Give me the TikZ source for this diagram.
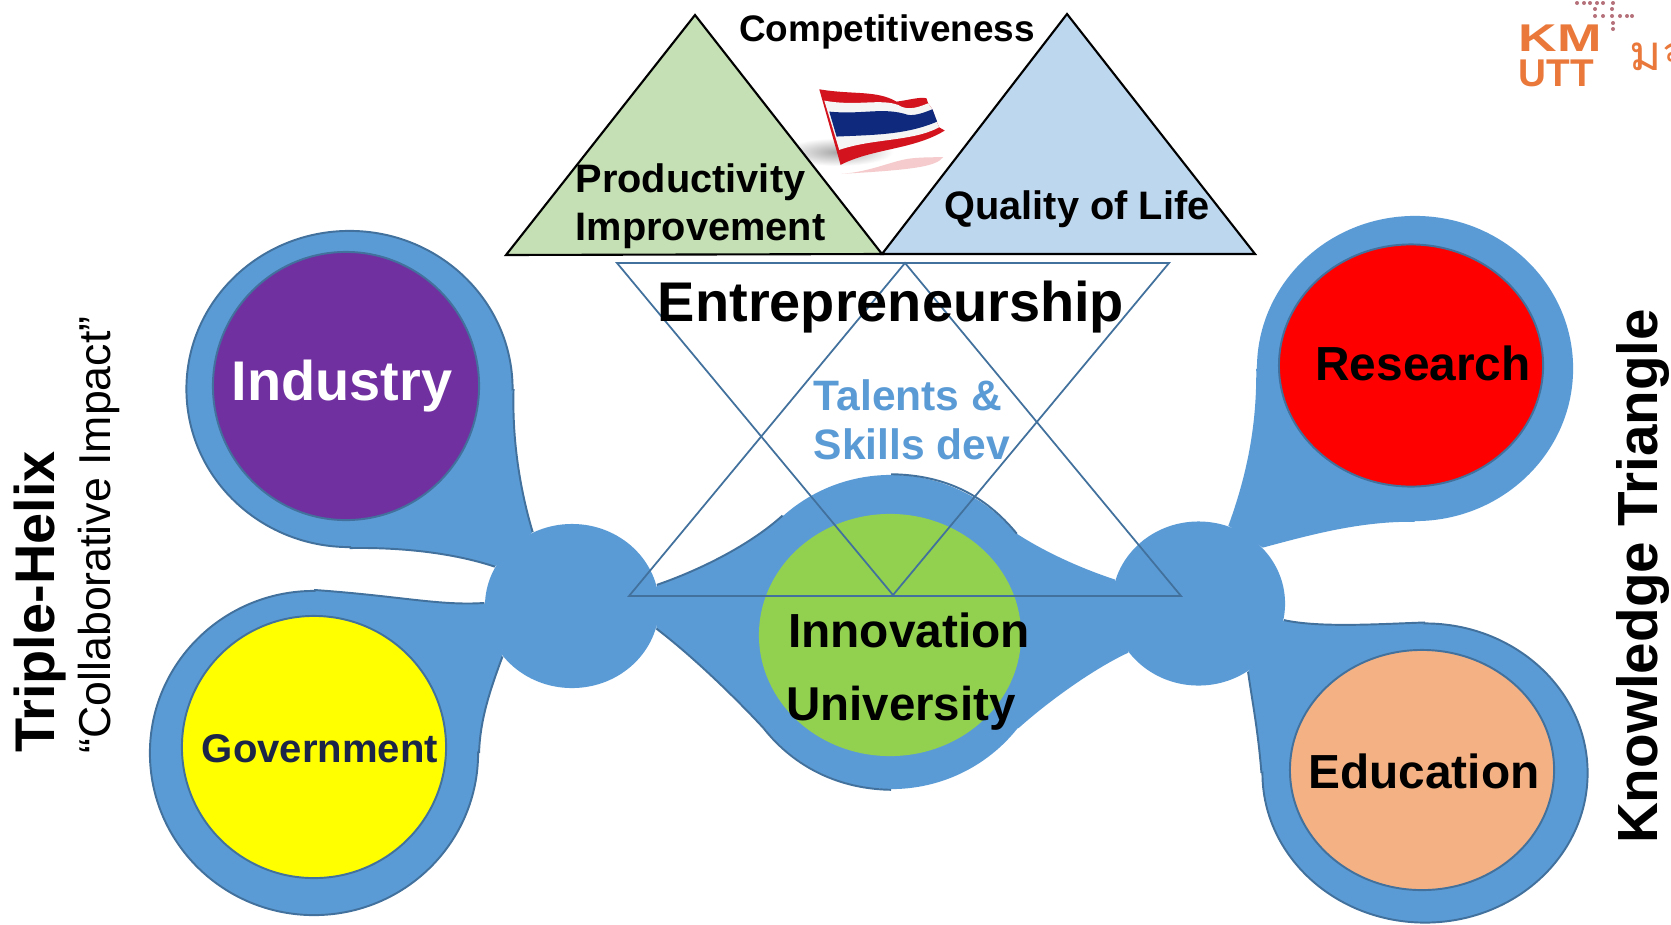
\documentclass[tikz,border=0pt]{standalone}
\usepackage{fontspec}
\setmainfont{Liberation Sans}
\newfontfamily\thaifont[Script=Thai]{Loma}
\usetikzlibrary{shapes.geometric}
\definecolor{limbblue}{HTML}{5B9BD5}
\definecolor{edgeblue}{HTML}{41719C}
\definecolor{kmorange}{HTML}{E9783A}
\definecolor{kmdot}{HTML}{B5707A}
\definecolor{indpurple}{HTML}{7030A0}
\definecolor{govyellow}{rgb}{1,1,0}
\definecolor{resred}{rgb}{1,0,0}
\definecolor{edupeach}{HTML}{F4B183}
\definecolor{unigreen}{HTML}{92D050}
\definecolor{trigreen}{HTML}{C5E0B4}
\definecolor{triblue}{HTML}{BDD7EE}
\definecolor{govnavy}{HTML}{1B2548}
\definecolor{flagred}{HTML}{D3141F}
\definecolor{flagblue}{HTML}{0F2A7C}
\tikzset{
  round/.style={ellipse,inner sep=0pt,fill=#1},
  limb/.style={fill=limbblue,draw=none},
  rim/.style={draw=edgeblue,line width=0.55pt},
  tri/.style={draw=black,line width=0.6pt,line join=miter},
  vee/.style={draw=edgeblue,line width=0.5pt},
  tag/.style={inner sep=0pt,font=\bfseries\fontsize{#1}{#1}\selectfont},
}
\begin{document}
\begin{tikzpicture}[x=0.01cm,y=-0.01cm]
\useasboundingbox (0,0) rectangle (1671,924);
\fill[white] (0,0) rectangle (1671,924);

\draw[draw=none] (349.5,389) node (indouter) [round=limbblue,rim,minimum width=3.26cm,minimum height=3.16cm] {};
\draw[draw=none] (314,753) node (govouter) [round=limbblue,rim,minimum width=3.28cm,minimum height=3.24cm] {};
\draw[draw=none] (1415,368.5) node (resouter) [round=limbblue,minimum width=3.16cm,minimum height=3.05cm] {};
\draw[draw=none] (1425,773) node (eduouter) [round=limbblue,rim,minimum width=3.25cm,minimum height=2.99cm] {};
\draw[draw=none] (891,632) node (uniouter) [round=limbblue,minimum width=3.2cm,minimum height=3.14cm] {};
\draw[draw=none] (572,606) node (hubleft) [round=limbblue,minimum width=1.74cm,minimum height=1.64cm] {};
\draw[draw=none] (1198.5,603.5) node (hubright) [round=limbblue,minimum width=1.73cm,minimum height=1.64cm] {};

\path[limb] (indouter.east) .. controls (512,440) and (520,490) .. (hubleft.118) -- (hubleft.153)
  .. controls (460,555) and (410,547) .. (indouter.south) -- cycle;
\path[limb] (hubleft.178) .. controls (440,606) and (400,596) .. (govouter.north) -- (govouter.east)
  .. controls (480,720) and (490,690) .. (hubleft.216) -- cycle;
\path[limb] (resouter.west) .. controls (1257,430) and (1245,480) .. (hubright.69) -- (hubright.41.6)
  .. controls (1310,535) and (1360,521) .. (resouter.south) -- cycle;
\path[limb] (hubright.-11) .. controls (1320,628) and (1380,624) .. (eduouter.north) -- (eduouter.west)
  .. controls (1258,730) and (1252,700) .. (hubright.-54) -- cycle;
\path[limb] (hubleft.14) .. controls (700,570) and (750,545) .. (uniouter.133.5) -- (uniouter.38.4)
  .. controls (1045,552) and (1080,568) .. (hubright.164) -- (hubright.215)
  .. controls (1095,668) and (1050,700) .. (uniouter.-37.2) -- (uniouter.217.4)
  .. controls (745,708) and (700,662) .. (hubleft.-15) -- cycle;

\draw[rim] (indouter.east) .. controls (512,440) and (520,490) .. (hubleft.118);
\draw[rim] (hubleft.153) .. controls (460,555) and (410,547) .. (indouter.south);
\draw[rim] (hubleft.178) .. controls (440,606) and (400,596) .. (govouter.north);
\draw[rim] (govouter.east) .. controls (480,720) and (490,690) .. (hubleft.216);
\draw[rim] (hubright.-11) .. controls (1320,628) and (1380,624) .. (eduouter.north);
\draw[rim] (eduouter.west) .. controls (1258,730) and (1252,700) .. (hubright.-54);
\draw[rim] (hubleft.14) .. controls (700,570) and (750,545) .. (uniouter.133.5);
\draw[rim] (uniouter.north) .. controls (945,475) and (985,495) .. (uniouter.38.4);
\draw[rim] (uniouter.217.4) .. controls (795,768) and (840,789) .. (uniouter.south);
\draw[rim] (uniouter.217.4) .. controls (745,708) and (700,662) .. (hubleft.-15);

\draw[draw=none] (346,386) node (industry) [round=indpurple,rim,minimum width=2.66cm,minimum height=2.68cm] {};
\draw[draw=none] (314,747) node (government) [round=govyellow,rim,minimum width=2.64cm,minimum height=2.62cm] {};
\draw[draw=none] (1411,365.5) node (research) [round=resred,rim,minimum width=2.64cm,minimum height=2.42cm] {};
\draw[draw=none] (1422,770) node (education) [round=edupeach,rim,minimum width=2.64cm,minimum height=2.4cm] {};
\draw[draw=none] (890,635) node (university) [round=unigreen,minimum width=2.62cm,minimum height=2.42cm] {};

\shade[inner color=black!35,outer color=white] (838,152) ellipse (55 and 14);
\begin{scope}[shift={(780,70)},x=0.00333cm,y=-0.00333cm]
\fill[flagred] (118,58) .. controls (220,75) and (290,60) .. (350,95) .. controls (390,90) and (420,80) .. (440,85)
  -- (445,100) -- (458,118) -- (472,158) -- (478,172) -- (495,182)
  .. controls (400,240) and (280,235) .. (182,285) -- cycle;
\fill[white!96!black] (133,92) .. controls (230,110) and (300,85) .. (355,105) .. controls (385,125) and (420,110) .. (445,100)
  -- (458,118) -- (472,158) -- (478,172) .. controls (400,215) and (280,205) .. (178,240) -- cycle;
\fill[flagblue] (148,125) .. controls (250,135) and (310,110) .. (385,135) .. controls (410,138) and (440,125) .. (458,118)
  -- (472,155) .. controls (380,195) and (280,195) .. (170,200) -- cycle;
\fill[flagred,opacity=0.22] (185,312) .. controls (280,305) and (340,270) .. (400,265) .. controls (430,262) and (470,262) .. (490,262)
  .. controls (470,290) and (400,300) .. (185,312) -- cycle;
\end{scope}

\draw[tri,fill=trigreen] (695,15) -- (506,255) -- (882,254) -- cycle;
\draw[tri,fill=triblue] (1067,14) -- (882,254) -- (1255,254) -- cycle;
\draw[vee] (617,263) -- (1169,263) -- (893,595) -- cycle;
\draw[vee] (629,596) -- (1181,596) -- (905,263) -- cycle;

\draw (887,32) node (competitive) [tag=10.5] {Competitiveness};
\draw (575,206) node (productivity) [tag=11.3,anchor=west,align=left,font=\bfseries\fontsize{11.3}{13.7}\selectfont] {Productivity\\Improvement};
\draw (1077,209) node (quality) [tag=11.3] {Quality of Life};
\draw (891,307) node (entrepreneur) [tag=15.9] {Entrepreneurship};
\draw (813,420) node (talents) [tag=12.1,anchor=west,align=left,text=limbblue,font=\bfseries\fontsize{12.1}{14}\selectfont] {Talents \&\\Skills dev};
\draw (909,630) node (innovation) [tag=13.6] {Innovation};
\draw (901,708) node (universitytext) [tag=13.5] {University};
\draw (342,386) node (industrytext) [tag=15.9,text=white] {Industry};
\draw (320,749) node (governmenttext) [tag=11.4,text=govnavy] {Government};
\draw (1423,363) node (researchtext) [tag=13.6] {Research};
\draw (1424,771) node (educationtext) [tag=13.6] {Education};
\draw (40,602) node (helix) [tag=15.9,rotate=90] {Triple-Helix};
\draw (99,535) node (impact) [inner sep=0pt,rotate=90,font=\fontsize{12.7}{12.7}\selectfont] {“Collaborative Impact”};
\draw (1643,576.5) node (knowledge) [tag=16.1,rotate=90] {Knowledge Triangle};

\begin{scope}
\clip (1500,0) rectangle (1671,100);
\draw (1518,38) node (km) [inner sep=0pt,anchor=west,text=kmorange,font=\bfseries\fontsize{11}{11}\selectfont] {\scalebox{1.38}[1]{KM}};
\draw (1518,73) node (utt) [inner sep=0pt,anchor=west,text=kmorange,font=\bfseries\fontsize{11}{11}\selectfont] {UTT};
\draw (1629,57) node (thai) [inner sep=0pt,anchor=west,text=kmorange,font=\thaifont\fontsize{14}{14}\selectfont] {มจธ};
\foreach \dotx/\doty in {1577/3,1584/3,1590/3,1597/3,1603/3,1613/3,1595/9,1612/9,1595/16,1603/16,1612/16,1620/16,1627/16,1632/16,1613/23,1613/29}
  \fill[kmdot] (\dotx,\doty) circle (2);
\end{scope}
\end{tikzpicture}
\end{document}
